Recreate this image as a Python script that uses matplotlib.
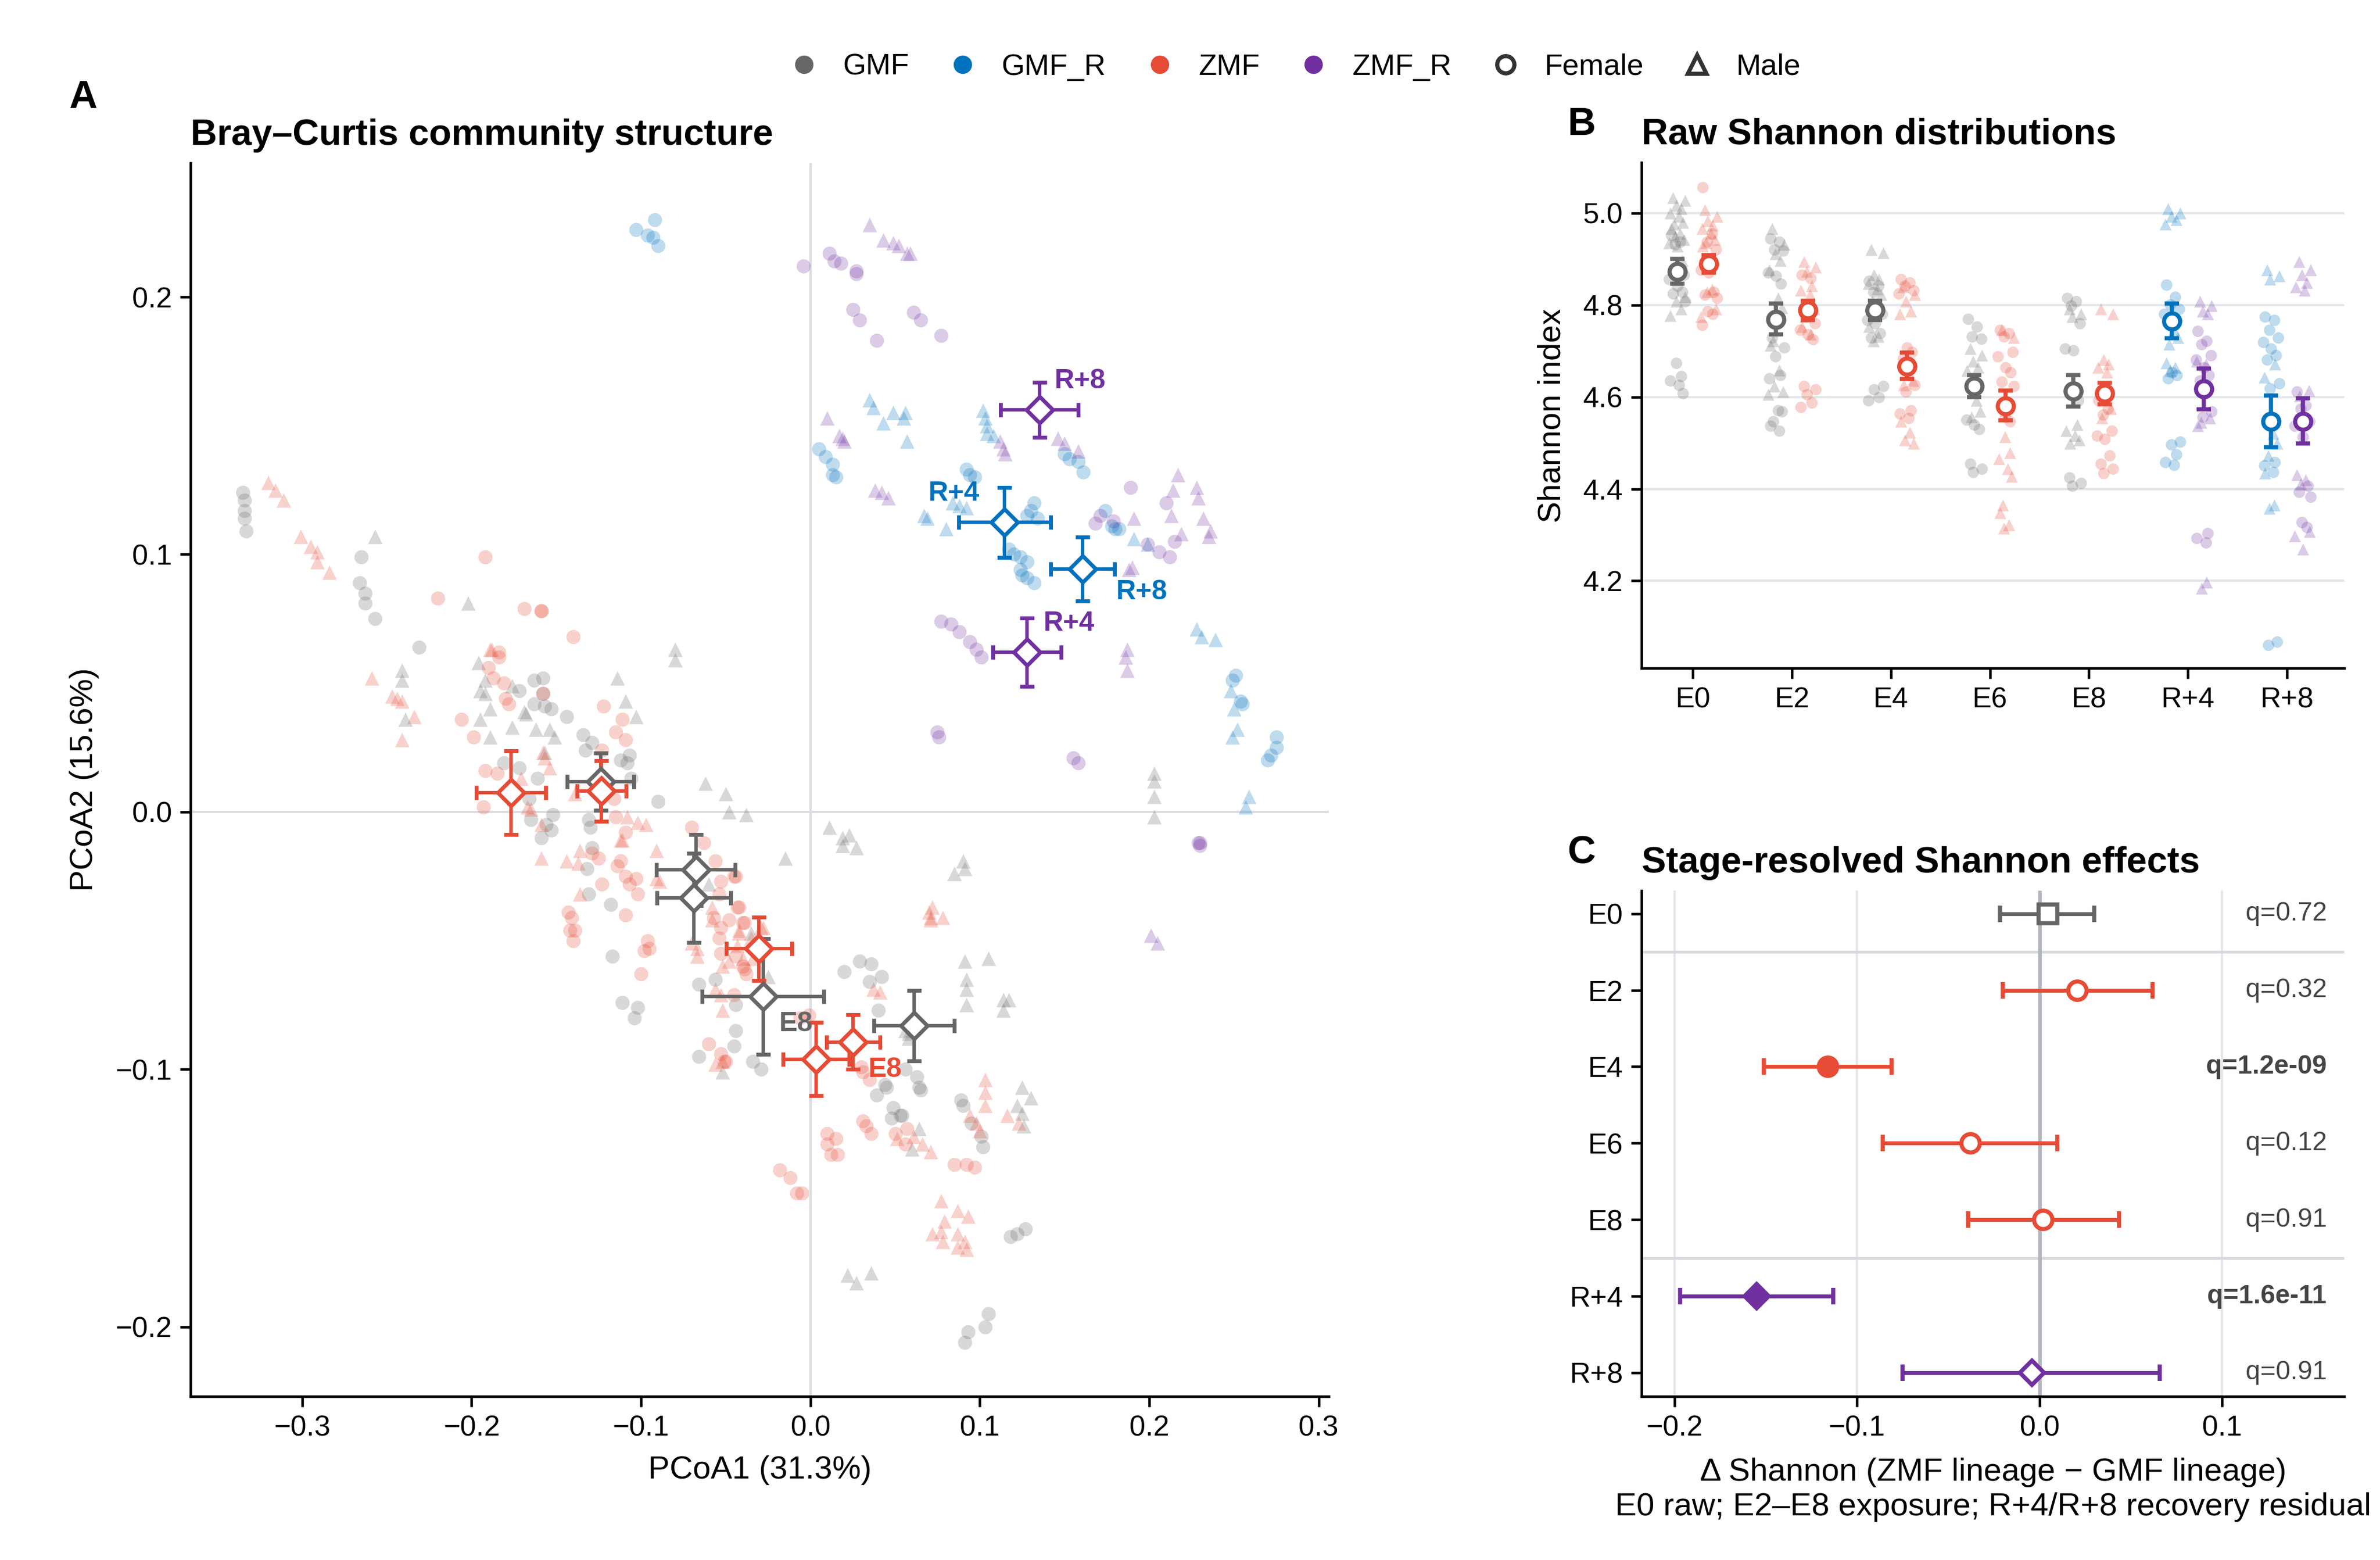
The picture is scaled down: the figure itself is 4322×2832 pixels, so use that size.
import matplotlib
matplotlib.use('Agg')
import matplotlib.pyplot as plt
from matplotlib.lines import Line2D
import numpy as np

plt.rcParams['font.family'] = ['Liberation Sans', 'DejaVu Sans']
plt.rcParams['axes.linewidth'] = 1.1
plt.rcParams['xtick.major.width'] = 1.1
plt.rcParams['ytick.major.width'] = 1.1
plt.rcParams['xtick.major.size'] = 4.5
plt.rcParams['ytick.major.size'] = 4.5

GREY = '#666666'
RED = '#E64B35'
BLUE = '#0072BD'
PURPLE = '#7030A0'

# ---------------- panel A: PCoA points (x, y)
A_GMF_F = [(-0.335, 0.124), (-0.334, 0.121), (-0.334, 0.117), (-0.334, 0.114), (-0.333, 0.109),
           (-0.265, 0.099), (-0.266, 0.089), (-0.263, 0.085), (-0.263, 0.081), (-0.257, 0.075),
           (-0.231, 0.064), (-0.163, 0.051), (-0.158, 0.052), (-0.158, 0.046), (-0.163, 0.042),
           (-0.157, 0.041), (-0.153, 0.040), (-0.172, 0.047), (-0.144, 0.037), (-0.134, 0.030),
           (-0.129, 0.027), (-0.133, 0.024), (-0.112, 0.020), (-0.107, 0.022), (-0.108, 0.019),
           (-0.106, 0.013), (-0.090, 0.004), (-0.181, 0.019), (-0.172, 0.017), (-0.161, 0.013),
           (-0.166, 0.005), (-0.152, -0.001), (-0.165, -0.003), (-0.156, -0.005), (-0.153, -0.007),
           (-0.159, -0.010), (-0.131, -0.003), (-0.130, -0.006), (-0.129, -0.014), (-0.132, -0.022),
           (-0.131, -0.032), (-0.118, -0.036), (-0.117, -0.056), (-0.111, -0.074), (-0.102, -0.076),
           (-0.104, -0.080), (-0.066, -0.067), (-0.056, -0.065), (-0.044, -0.075), (-0.044, -0.085),
           (-0.045, -0.091), (-0.034, -0.097), (-0.029, -0.100), (-0.066, -0.095), (0.029, -0.058),
           (0.036, -0.059), (0.020, -0.062), (0.042, -0.064), (0.035, -0.066), (0.040, -0.077),
           (0.039, -0.110), (0.044, -0.106), (0.049, -0.115), (0.054, -0.118), (0.063, -0.103),
           (0.064, -0.107), (0.056, -0.100), (0.065, -0.108), (0.045, -0.107), (0.048, -0.119),
           (0.053, -0.118), (0.089, -0.112), (0.090, -0.114), (0.095, -0.121), (0.102, -0.130),
           (0.101, -0.126), (0.118, -0.165), (0.122, -0.164), (0.127, -0.162), (0.105, -0.195),
           (0.103, -0.200), (0.093, -0.202), (0.091, -0.206)]
A_GMF_M = [(-0.257, 0.107), (-0.241, 0.055), (-0.241, 0.051), (-0.239, 0.036), (-0.202, 0.081),
           (-0.196, 0.058), (-0.192, 0.051), (-0.195, 0.047), (-0.189, 0.040), (-0.189, 0.029),
           (-0.195, 0.036), (-0.176, 0.049), (-0.176, 0.033), (-0.168, 0.038), (-0.154, 0.032),
           (-0.157, 0.023), (-0.192, 0.046), (-0.162, 0.032), (-0.151, 0.029), (-0.169, 0.039),
           (-0.080, 0.063), (-0.080, 0.059), (-0.114, 0.052), (-0.109, 0.043), (-0.103, 0.037),
           (-0.062, 0.011), (-0.050, 0.007), (-0.048, 0.000), (-0.038, -0.001), (0.011, -0.006),
           (0.019, -0.010), (0.019, -0.013), (0.027, -0.014), (0.023, -0.009), (-0.015, -0.018),
           (-0.060, -0.028), (-0.035, -0.047), (-0.025, -0.064), (-0.052, -0.101), (0.058, -0.086),
           (0.056, -0.085), (0.058, -0.088), (0.090, -0.019), (0.085, -0.024), (0.091, -0.022),
           (0.091, -0.058), (0.105, -0.057), (0.092, -0.065), (0.092, -0.069), (0.092, -0.075),
           (0.114, -0.073), (0.117, -0.073), (0.114, -0.077), (0.125, -0.107), (0.130, -0.111),
           (0.122, -0.114), (0.125, -0.117), (0.126, -0.122), (0.064, -0.123), (0.060, -0.131),
           (0.022, -0.180), (0.027, -0.183), (0.036, -0.179), (0.203, 0.015), (0.203, 0.012),
           (0.203, 0.006), (0.203, -0.002)]
A_ZMF_F = [(-0.192, 0.099), (-0.220, 0.083), (-0.169, 0.079), (-0.159, 0.078), (-0.159, 0.078),
           (-0.140, 0.068), (-0.184, 0.062), (-0.184, 0.060), (-0.190, 0.056), (-0.187, 0.052),
           (-0.181, 0.050), (-0.180, 0.044), (-0.178, 0.042), (-0.158, 0.046), (-0.206, 0.036),
           (-0.199, 0.029), (-0.122, 0.041), (-0.111, 0.036), (-0.115, 0.031), (-0.109, 0.028),
           (-0.123, 0.024), (-0.192, 0.016), (-0.185, 0.015), (-0.193, 0.002), (-0.116, 0.005),
           (-0.115, -0.002), (-0.109, -0.008), (-0.129, -0.016), (-0.125, -0.018), (-0.112, -0.019),
           (-0.114, -0.021), (-0.109, -0.025), (-0.103, -0.026), (-0.107, -0.028), (-0.102, -0.032),
           (-0.123, -0.028), (-0.143, -0.039), (-0.141, -0.041), (-0.142, -0.046), (-0.139, -0.046),
           (-0.140, -0.050), (-0.109, -0.040), (-0.096, -0.050), (-0.098, -0.054), (-0.095, -0.053),
           (-0.100, -0.063), (-0.070, -0.006), (-0.063, -0.012), (-0.056, -0.019), (-0.044, -0.025),
           (-0.053, -0.027), (-0.054, -0.032), (-0.043, -0.037), (-0.039, -0.043), (-0.057, -0.041),
           (-0.053, -0.045), (-0.054, -0.049), (-0.044, -0.056), (-0.039, -0.061), (-0.053, -0.055),
           (-0.045, -0.071), (-0.060, -0.090), (-0.053, -0.094), (-0.051, -0.097), (-0.001, -0.079),
           (-0.006, -0.080), (0.031, -0.101), (0.035, -0.104), (0.030, -0.099), (-0.045, -0.025),
           (-0.042, -0.037), (-0.048, -0.042), (-0.040, -0.043), (-0.040, -0.060), (-0.038, -0.063),
           (-0.050, -0.097), (0.031, -0.120), (0.033, -0.122), (0.036, -0.125), (0.010, -0.125),
           (0.015, -0.127), (0.010, -0.129), (0.012, -0.133), (0.016, -0.133), (-0.018, -0.139),
           (-0.012, -0.142), (-0.008, -0.148), (-0.005, -0.148), (0.050, -0.125), (0.057, -0.123),
           (0.056, -0.129), (0.085, -0.137), (0.092, -0.137), (0.097, -0.138)]
A_ZMF_M = [(-0.320, 0.128), (-0.316, 0.125), (-0.311, 0.121), (-0.301, 0.107), (-0.295, 0.103),
           (-0.291, 0.101), (-0.291, 0.097), (-0.284, 0.093), (-0.259, 0.052), (-0.247, 0.045),
           (-0.241, 0.043), (-0.234, 0.037), (-0.241, 0.028), (-0.244, 0.044), (-0.189, 0.063),
           (-0.188, 0.063), (-0.158, 0.023), (-0.157, 0.021), (-0.167, 0.002), (-0.165, 0.001),
           (-0.097, -0.005), (-0.111, -0.011), (-0.154, 0.017), (-0.171, 0.013), (-0.159, -0.005),
           (-0.159, -0.018), (-0.144, -0.019), (-0.139, 0.007), (-0.136, -0.015), (-0.137, -0.020),
           (-0.136, -0.032), (-0.112, -0.011), (-0.108, -0.002), (-0.102, -0.004), (-0.091, -0.015),
           (-0.091, -0.026), (-0.089, -0.027), (-0.058, -0.037), (-0.058, -0.042), (-0.042, -0.046),
           (-0.035, -0.049), (-0.028, -0.045), (-0.043, -0.052), (-0.040, -0.057), (-0.034, -0.057),
           (-0.052, -0.060), (-0.056, -0.069), (-0.053, -0.071), (-0.052, -0.077), (-0.070, -0.051),
           (-0.067, -0.053), (-0.067, -0.056), (-0.056, -0.098), (-0.029, -0.045), (-0.042, -0.047),
           (-0.048, -0.058), (-0.052, -0.097), (0.070, -0.039), (0.071, -0.042), (0.072, -0.037),
           (0.071, -0.041), (0.078, -0.041), (0.037, -0.069), (0.041, -0.070), (0.103, -0.104),
           (0.103, -0.109), (0.103, -0.114), (0.094, -0.118), (0.098, -0.121), (0.100, -0.124),
           (0.116, -0.118), (0.123, -0.121), (0.061, -0.126), (0.066, -0.129), (0.071, -0.132),
           (0.051, -0.127), (0.077, -0.151), (0.087, -0.155), (0.093, -0.157), (0.079, -0.159),
           (0.072, -0.164), (0.077, -0.163), (0.078, -0.167), (0.087, -0.164), (0.091, -0.167),
           (0.087, -0.169), (0.092, -0.170)]
A_GMFR_F = [(-0.103, 0.226), (-0.096, 0.224), (-0.093, 0.223), (-0.090, 0.220), (-0.092, 0.230),
            (0.005, 0.141), (0.009, 0.138), (0.013, 0.135), (0.013, 0.131), (0.015, 0.130),
            (0.092, 0.133), (0.094, 0.131), (0.097, 0.130), (0.132, 0.120), (0.128, 0.115),
            (0.134, 0.114), (0.130, 0.117), (0.117, 0.102), (0.120, 0.100), (0.124, 0.099),
            (0.128, 0.097), (0.124, 0.094), (0.125, 0.092), (0.128, 0.091), (0.132, 0.089),
            (0.150, 0.139), (0.153, 0.137), (0.158, 0.136), (0.161, 0.132), (0.174, 0.117),
            (0.178, 0.111), (0.182, 0.110), (0.180, 0.110), (0.251, 0.053), (0.249, 0.051),
            (0.254, 0.043), (0.255, 0.042), (0.275, 0.029), (0.275, 0.025), (0.272, 0.022),
            (0.270, 0.020)]
A_GMFR_M = [(0.035, 0.160), (0.037, 0.157), (0.043, 0.151), (0.049, 0.155), (0.056, 0.155),
            (0.057, 0.144), (0.055, 0.153), (0.102, 0.156), (0.104, 0.150), (0.104, 0.147),
            (0.108, 0.146), (0.103, 0.153), (0.067, 0.115), (0.069, 0.114), (0.080, 0.110),
            (0.084, 0.120), (0.088, 0.119), (0.092, 0.118), (0.191, 0.106), (0.199, 0.104),
            (0.228, 0.071), (0.231, 0.068), (0.239, 0.067), (0.248, 0.047), (0.250, 0.040),
            (0.252, 0.032), (0.249, 0.029), (0.259, 0.006), (0.257, 0.002)]
A_ZMFR_F = [(-0.004, 0.212), (0.011, 0.217), (0.014, 0.214), (0.018, 0.213), (0.027, 0.209),
            (0.027, 0.210), (0.025, 0.195), (0.029, 0.191), (0.039, 0.183), (0.061, 0.194),
            (0.065, 0.191), (0.077, 0.185), (0.077, 0.074), (0.083, 0.073), (0.088, 0.070),
            (0.094, 0.066), (0.098, 0.063), (0.101, 0.060), (0.075, 0.031), (0.076, 0.029),
            (0.155, 0.021), (0.158, 0.019), (0.189, 0.126), (0.171, 0.115), (0.168, 0.112),
            (0.179, 0.113), (0.199, 0.104), (0.206, 0.101), (0.212, 0.099), (0.210, 0.120),
            (0.215, 0.105), (0.229, -0.012), (0.230, -0.013), (0.230, -0.012)]
A_ZMFR_M = [(0.035, 0.228), (0.043, 0.222), (0.049, 0.221), (0.052, 0.220), (0.057, 0.217),
            (0.059, 0.217), (0.010, 0.153), (0.017, 0.146), (0.020, 0.144), (0.019, 0.145),
            (0.038, 0.125), (0.042, 0.124), (0.046, 0.122), (0.112, 0.144), (0.115, 0.139),
            (0.114, 0.141), (0.146, 0.145), (0.150, 0.143), (0.158, 0.140), (0.217, 0.131),
            (0.214, 0.125), (0.228, 0.126), (0.229, 0.122), (0.232, 0.114), (0.236, 0.109),
            (0.235, 0.107), (0.213, 0.115), (0.219, 0.108), (0.191, 0.114), (0.190, 0.095),
            (0.188, 0.094), (0.187, 0.063), (0.186, 0.060), (0.187, 0.055), (0.201, -0.048),
            (0.205, -0.051)]

# group centroids with error half-widths
CENT_GMF_STAGE = ['E0', 'E2', 'E4', 'E6', 'E8']
CENT_GMF_X = [-0.1239, -0.0688, -0.0676, 0.0612, -0.0280]
CENT_GMF_Y = [0.0118, -0.0334, -0.0225, -0.0831, -0.0717]
CENT_GMF_XERR = [0.0196, 0.0217, 0.0232, 0.0238, 0.0360]
CENT_GMF_YERR = [0.0111, 0.0174, 0.0138, 0.0137, 0.0224]
CENT_ZMF_STAGE = ['E0', 'E2', 'E4', 'E6', 'E8']
CENT_ZMF_X = [-0.1233, -0.1767, -0.0303, 0.0034, 0.0252]
CENT_ZMF_Y = [0.0081, 0.0074, -0.0531, -0.0960, -0.0894]
CENT_ZMF_XERR = [0.0144, 0.0205, 0.0193, 0.0196, 0.0157]
CENT_ZMF_YERR = [0.0117, 0.0163, 0.0123, 0.0143, 0.0106]
CENT_GMFR_STAGE = ['R+4', 'R+8']
CENT_GMFR_X = [0.1146, 0.1607]
CENT_GMFR_Y = [0.1124, 0.0943]
CENT_GMFR_XERR = [0.0272, 0.0190]
CENT_GMFR_YERR = [0.0136, 0.0124]
CENT_ZMFR_STAGE = ['R+4', 'R+8']
CENT_ZMFR_X = [0.1279, 0.1352]
CENT_ZMFR_Y = [0.0620, 0.1561]
CENT_ZMFR_XERR = [0.0202, 0.0230]
CENT_ZMFR_YERR = [0.0133, 0.0107]

# ---------------- panel B: Shannon values per stage
B_STAGES = ['E0', 'E2', 'E4', 'E6', 'E8', 'R+4', 'R+8']
B_GMF_F = {'E0': [4.952, 4.938, 4.931, 4.866, 4.856, 4.842, 4.828, 4.825, 4.808, 4.674, 4.645, 4.636, 4.626, 4.608],
           'E2': [4.945, 4.938, 4.921, 4.918, 4.870, 4.863, 4.846, 4.729, 4.708, 4.688, 4.647, 4.640, 4.571, 4.568, 4.547, 4.537, 4.527],
           'E4': [4.852, 4.842, 4.828, 4.780, 4.767, 4.760, 4.739, 4.729, 4.623, 4.616, 4.599, 4.592],
           'E6': [4.770, 4.753, 4.732, 4.727, 4.551, 4.540, 4.530, 4.455, 4.444, 4.437],
           'E8': [4.815, 4.808, 4.798, 4.760, 4.705, 4.702, 4.592, 4.424, 4.413, 4.407]}
B_GMF_M = {'E0': [5.034, 5.027, 5.017, 5.010, 5.000, 4.993, 4.979, 4.976, 4.966, 4.955, 4.949, 4.942, 4.935, 4.928, 4.897, 4.877, 4.818, 4.808, 4.791, 4.777],
           'E2': [4.966, 4.931, 4.911, 4.897, 4.877, 4.815, 4.794, 4.722, 4.712, 4.658, 4.623, 4.612, 4.605],
           'E4': [4.921, 4.914, 4.866, 4.856, 4.846, 4.835, 4.822, 4.808, 4.753, 4.732, 4.722],
           'E6': [4.705, 4.691, 4.678, 4.664, 4.657, 4.592, 4.568, 4.557],
           'E8': [4.791, 4.780, 4.774, 4.540, 4.527, 4.516, 4.506, 4.499]}
B_ZMF_F = {'E0': [5.056, 4.955, 4.938, 4.921, 4.877, 4.870, 4.828, 4.822, 4.815, 4.787, 4.780, 4.756],
           'E2': [4.866, 4.859, 4.774, 4.760, 4.746, 4.736, 4.726, 4.623, 4.616, 4.605, 4.588, 4.578],
           'E4': [4.856, 4.849, 4.842, 4.832, 4.825, 4.708, 4.698, 4.684, 4.626, 4.612, 4.571, 4.564, 4.554],
           'E6': [4.746, 4.739, 4.732, 4.698, 4.688, 4.664, 4.654, 4.633, 4.623, 4.557, 4.547],
           'E8': [4.592, 4.575, 4.561, 4.527, 4.516, 4.509, 4.472, 4.455, 4.444, 4.434]}
B_ZMF_M = {'E0': [5.007, 4.993, 4.983, 4.973, 4.966, 4.955, 4.942, 4.935, 4.928, 4.835, 4.828, 4.791, 4.774],
           'E2': [4.894, 4.883, 4.873, 4.842, 4.832, 4.822, 4.791, 4.774, 4.753, 4.736],
           'E4': [4.839, 4.822, 4.808, 4.787, 4.780, 4.650, 4.636, 4.626, 4.547, 4.523, 4.506, 4.499],
           'E6': [4.746, 4.729, 4.513, 4.479, 4.465, 4.444, 4.427, 4.365, 4.348, 4.321, 4.314],
           'E8': [4.791, 4.780, 4.681, 4.671, 4.664, 4.654, 4.575, 4.554]}
B_GMFR_F = {'R+4': [4.844, 4.818, 4.801, 4.791, 4.780, 4.654, 4.647, 4.640, 4.503, 4.497, 4.475, 4.458, 4.452],
            'R+8': [4.775, 4.767, 4.746, 4.729, 4.719, 4.705, 4.691, 4.681, 4.630, 4.619, 4.458, 4.451, 4.437, 4.067, 4.060]}
B_GMFR_M = {'R+4': [5.010, 5.000, 4.993, 4.986, 4.976, 4.746, 4.729, 4.715, 4.674, 4.664, 4.657],
            'R+8': [4.876, 4.863, 4.856, 4.671, 4.643, 4.520, 4.499, 4.472, 4.434, 4.365, 4.358]}
B_ZMFR_F = {'R+4': [4.743, 4.722, 4.715, 4.691, 4.681, 4.664, 4.647, 4.636, 4.568, 4.557, 4.304, 4.293, 4.283],
            'R+8': [4.612, 4.581, 4.575, 4.547, 4.537, 4.513, 4.407, 4.393, 4.383, 4.328, 4.317]}
B_ZMFR_M = {'R+4': [4.808, 4.798, 4.787, 4.780, 4.678, 4.671, 4.554, 4.544, 4.537, 4.197, 4.184],
            'R+8': [4.894, 4.876, 4.866, 4.849, 4.839, 4.832, 4.614, 4.602, 4.431, 4.420, 4.410, 4.307, 4.297, 4.269]}

# means with lower/upper error bounds (left = GMF lineage, right = ZMF lineage)
B_MEAN_LEFT = [4.873, 4.769, 4.789, 4.624, 4.613, 4.765, 4.547]
B_LO_LEFT = [4.847, 4.736, 4.767, 4.600, 4.579, 4.728, 4.491]
B_HI_LEFT = [4.900, 4.803, 4.809, 4.647, 4.648, 4.803, 4.603]
B_MEAN_RIGHT = [4.889, 4.789, 4.667, 4.580, 4.608, 4.617, 4.547]
B_LO_RIGHT = [4.870, 4.767, 4.639, 4.549, 4.584, 4.573, 4.499]
B_HI_RIGHT = [4.909, 4.809, 4.697, 4.614, 4.631, 4.662, 4.597]

# ---------------- panel C: stage effects
C_STAGES = ['E0', 'E2', 'E4', 'E6', 'E8', 'R+4', 'R+8']
C_EST = [0.0045, 0.0205, -0.116, -0.038, 0.002, -0.155, -0.004]
C_LO = [-0.0215, -0.020, -0.151, -0.086, -0.039, -0.197, -0.075]
C_HI = [0.030, 0.062, -0.081, 0.0097, 0.0435, -0.113, 0.066]
C_Q = ['0.72', '0.32', '1.2e-09', '0.12', '0.91', '1.6e-11', '0.91']
C_SIG = [False, False, True, False, False, True, False]

JITTER = [-0.06, 0.03, -0.02, 0.07, -0.08, 0.0, 0.05, -0.04, 0.08, -0.01, 0.04, -0.07, 0.02, 0.06, -0.03]

fig = plt.figure(figsize=(14.407, 9.44), dpi=300)
axA = fig.add_axes([0.080, 0.1049, 0.4783, 0.7906])
axB = fig.add_axes([0.6897, 0.5717, 0.2953, 0.3241])
axC = fig.add_axes([0.6897, 0.1049, 0.2953, 0.3241])


def style_axes(ax):
    ax.spines['top'].set_visible(False)
    ax.spines['right'].set_visible(False)
    ax.tick_params(labelsize=12.5)


# ---------------- panel A
axA.axhline(0, color='#dcdde3', lw=1.0, zorder=0)
axA.axvline(0, color='#dcdde3', lw=1.0, zorder=0)
for pts_f, pts_m, col in [(A_GMF_F, A_GMF_M, GREY), (A_ZMF_F, A_ZMF_M, RED),
                          (A_GMFR_F, A_GMFR_M, BLUE), (A_ZMFR_F, A_ZMFR_M, PURPLE)]:
    xf, yf = np.array(pts_f).T
    xm, ym = np.array(pts_m).T
    axA.scatter(xf, yf, s=38, marker='o', color=col, alpha=0.25, linewidths=0, zorder=2)
    axA.scatter(xm, ym, s=40, marker='^', color=col, alpha=0.25, linewidths=0, zorder=2)

label_offsets = {('GMF', 'E8'): (7, -12, 'left'), ('ZMF', 'E8'): (6.5, -12, 'left'),
                 ('GMF_R', 'R+4'): (-11, 12.5, 'right'), ('GMF_R', 'R+8'): (14.5, -10, 'left'),
                 ('ZMF_R', 'R+4'): (7, 12.5, 'left'), ('ZMF_R', 'R+8'): (6.5, 12.5, 'left')}
for name, stages, cx, cy, ex, ey, col in [
        ('GMF', CENT_GMF_STAGE, CENT_GMF_X, CENT_GMF_Y, CENT_GMF_XERR, CENT_GMF_YERR, GREY),
        ('ZMF', CENT_ZMF_STAGE, CENT_ZMF_X, CENT_ZMF_Y, CENT_ZMF_XERR, CENT_ZMF_YERR, RED),
        ('GMF_R', CENT_GMFR_STAGE, CENT_GMFR_X, CENT_GMFR_Y, CENT_GMFR_XERR, CENT_GMFR_YERR, BLUE),
        ('ZMF_R', CENT_ZMFR_STAGE, CENT_ZMFR_X, CENT_ZMFR_Y, CENT_ZMFR_XERR, CENT_ZMFR_YERR, PURPLE)]:
    axA.errorbar(cx, cy, xerr=ex, yerr=ey, fmt='D', ms=8, mfc='white', mec=col, mew=1.7,
                 ecolor=col, elinewidth=1.5, capsize=3.2, capthick=1.5, zorder=5)
    for st, x, y in zip(stages, cx, cy):
        if (name, st) in label_offsets:
            dx, dy, ha = label_offsets[(name, st)]
            axA.annotate(st, (x, y), xytext=(dx, dy), textcoords='offset points', ha=ha, va='center',
                         fontsize=12, fontweight='bold', color=col, zorder=6)

axA.set_xlim(-0.366, 0.306)
axA.set_ylim(-0.227, 0.252)
axA.set_xticks([-0.3, -0.2, -0.1, 0.0, 0.1, 0.2, 0.3])
axA.set_yticks([-0.2, -0.1, 0.0, 0.1, 0.2])
axA.set_xlabel('PCoA1 (31.3%)', fontsize=14, labelpad=6)
axA.set_ylabel('PCoA2 (15.6%)', fontsize=14, labelpad=7)
axA.set_title('Bray–Curtis community structure', loc='left', fontsize=16, fontweight='bold', pad=8)
style_axes(axA)

# ---------------- panel B
for y in [4.2, 4.4, 4.6, 4.8, 5.0]:
    axB.axhline(y, color='#e3e6ea', lw=1.0, zorder=0)

for i, st in enumerate(B_STAGES):
    if st.startswith('E'):
        groups = [(B_GMF_F, B_GMF_M, GREY, -0.16), (B_ZMF_F, B_ZMF_M, RED, 0.16)]
        cols = (GREY, RED)
    else:
        groups = [(B_GMFR_F, B_GMFR_M, BLUE, -0.16), (B_ZMFR_F, B_ZMFR_M, PURPLE, 0.16)]
        cols = (BLUE, PURPLE)
    for vals_f, vals_m, col, off in groups:
        vf = vals_f[st]
        vm = vals_m[st]
        xf = [i + off + JITTER[j % len(JITTER)] for j in range(len(vf))]
        xm = [i + off + JITTER[(j + 7) % len(JITTER)] for j in range(len(vm))]
        axB.scatter(xf, vf, s=25, marker='o', color=col, alpha=0.25, linewidths=0, zorder=2)
        axB.scatter(xm, vm, s=27, marker='^', color=col, alpha=0.25, linewidths=0, zorder=2)
    for mean, lo, hi, col, off in [(B_MEAN_LEFT[i], B_LO_LEFT[i], B_HI_LEFT[i], cols[0], -0.16),
                                   (B_MEAN_RIGHT[i], B_LO_RIGHT[i], B_HI_RIGHT[i], cols[1], 0.16)]:
        axB.errorbar(i + off, mean, yerr=[[mean - lo], [hi - mean]], fmt='o', ms=7, mfc='white',
                     mec=col, mew=1.8, ecolor=col, elinewidth=1.8, capsize=3.2, capthick=1.8, zorder=5)

axB.set_xlim(-0.52, 6.58)
axB.set_ylim(4.01, 5.11)
axB.set_xticks(range(len(B_STAGES)))
axB.set_xticklabels(B_STAGES)
axB.set_yticks([4.2, 4.4, 4.6, 4.8, 5.0])
axB.set_ylabel('Shannon index', fontsize=14, labelpad=7)
axB.set_title('Raw Shannon distributions', loc='left', fontsize=16, fontweight='bold', pad=8)
style_axes(axB)

# ---------------- panel C
for x in [-0.2, -0.1, 0.1]:
    axC.axvline(x, color='#e3e6ea', lw=1.0, zorder=0)
axC.axvline(0, color='#b4b6be', lw=1.6, zorder=1)
axC.axhline(0.5, color='#d6d9de', lw=1.2, zorder=0)
axC.axhline(4.5, color='#d6d9de', lw=1.2, zorder=0)

for i, st in enumerate(C_STAGES):
    if st == 'E0':
        col, mk = GREY, 's'
    elif st.startswith('E'):
        col, mk = RED, 'o'
    else:
        col, mk = PURPLE, 'D'
    face = col if C_SIG[i] else 'white'
    axC.errorbar(C_EST[i], i, xerr=[[C_EST[i] - C_LO[i]], [C_HI[i] - C_EST[i]]], fmt=mk,
                 ms=8 if mk != 'D' else 7.5, mfc=face, mec=col, mew=1.8, ecolor=col,
                 elinewidth=1.7, capsize=3.6, capthick=1.7, zorder=5)
    axC.text(0.975, i, 'q=' + C_Q[i], transform=axC.get_yaxis_transform(), ha='right', va='center',
             fontsize=11.5, color='#444444', fontweight='bold' if C_SIG[i] else 'normal')

axC.set_ylim(6.31, -0.3)
axC.set_xlim(-0.218, 0.167)
axC.set_yticks(range(len(C_STAGES)))
axC.set_yticklabels(C_STAGES)
axC.set_xticks([-0.2, -0.1, 0.0, 0.1])
axC.set_xlabel('Δ Shannon (ZMF lineage − GMF lineage)\nE0 raw; E2–E8 exposure; R+4/R+8 recovery residual',
               fontsize=14, labelpad=7)
axC.set_title('Stage-resolved Shannon effects', loc='left', fontsize=16, fontweight='bold', pad=8)
style_axes(axC)

# ---------------- panel letters and legend
fig.text(0.035, 0.937, 'A', fontsize=17, fontweight='bold', ha='center', va='center')
fig.text(0.6645, 0.920, 'B', fontsize=17, fontweight='bold', ha='center', va='center')
fig.text(0.6645, 0.453, 'C', fontsize=17, fontweight='bold', ha='center', va='center')

handles = [Line2D([], [], ls='none', marker='o', ms=7, color=GREY, label='GMF'),
           Line2D([], [], ls='none', marker='o', ms=7, color=BLUE, label='GMF_R'),
           Line2D([], [], ls='none', marker='o', ms=7, color=RED, label='ZMF'),
           Line2D([], [], ls='none', marker='o', ms=7, color=PURPLE, label='ZMF_R'),
           Line2D([], [], ls='none', marker='o', ms=7.5, mfc='white', mec='#333333', mew=1.8, label='Female'),
           Line2D([], [], ls='none', marker='^', ms=8, mfc='white', mec='#333333', mew=1.8, label='Male')]
fig.legend(handles=handles, loc='center', bbox_to_anchor=(0.544, 0.957), ncol=6, frameon=False,
           fontsize=13, handlelength=1.0, handletextpad=0.8, columnspacing=1.3)

fig.savefig('out.png', dpi=300)
